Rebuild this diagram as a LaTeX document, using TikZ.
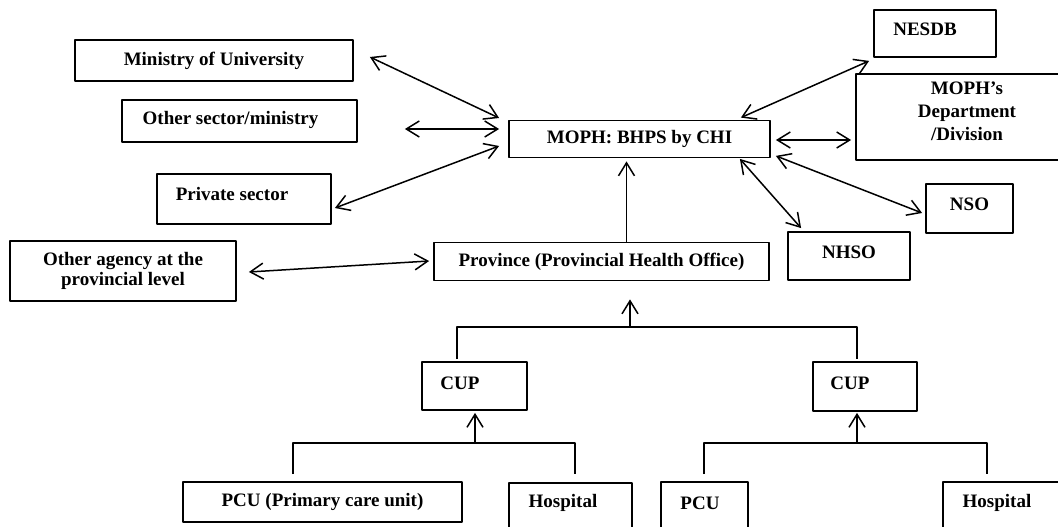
\documentclass[tikz,border=0pt]{standalone}
\usepackage{fontspec}
\setmainfont{Liberation Serif}
\usetikzlibrary{arrows.meta}

\begin{document}
\begin{tikzpicture}[x=1pt,y=-1pt,line join=round,
 >={Straight Barb[length=13pt,width=16pt]},
 box/.style={draw,line width=1.8pt,inner sep=0pt,font=\bfseries\fontsize{19}{20}\selectfont},
 boxtext/.style={font=\bfseries\fontsize{19}{23}\selectfont,inner sep=0pt},
 link/.style={<->,line width=1.5pt},
 flow/.style={->,line width=1.5pt},
 tree/.style={line width=1.8pt}]
\useasboundingbox (0,0) rectangle (1058,527);
\clip (0,0) rectangle (1058,527);
% partners on the left
\node[box,minimum width=278pt,minimum height=41pt] (minuni) at (214,60.5) {Ministry of University};
\node[box,minimum width=235pt,minimum height=42pt,label={[boxtext,shift={(-9,-1)}]center:Other sector/ministry}] (othsec) at (239.5,121) {};
\node[box,minimum width=174pt,minimum height=50pt,label={[boxtext,shift={(-12,-5)}]center:Private sector}] (priv) at (244,199) {};
\node[box,minimum width=226pt,minimum height=60pt,align=center] (agency) at (123,271) {Other agency at the\\provincial level};
% centre
\node[box,minimum width=261pt,minimum height=37pt] (moph) at (639.5,139) {MOPH: BHPS by CHI};
\node[box,minimum width=335pt,minimum height=38pt] (prov) at (601.5,261.5) {Province (Provincial Health Office)};
% partners on the right
\node[box,minimum width=122pt,minimum height=47pt,label={[boxtext,shift={(-10,-4.5)}]center:NESDB}] (nesdb) at (935,33.5) {};
\node[box,minimum width=222pt,minimum height=86pt,label={[boxtext,align=center,shift={(0,-6)}]center:MOPH’s\\Department\\/Division}] (dept) at (967,117) {};
\node[box,minimum width=87pt,minimum height=49pt,label={[boxtext,shift={(0,-4)}]center:NSO}] (nso) at (969.5,208.5) {};
\node[box,minimum width=122pt,minimum height=48pt,label={[boxtext,shift={(0,-4)}]center:NHSO}] (nhso) at (849,256) {};
% district level
\node[box,minimum width=105pt,minimum height=48pt,label={[boxtext,shift={(-14.5,-3)}]center:CUP}] (cupl) at (474.5,386) {};
\node[box,minimum width=104pt,minimum height=49pt,label={[boxtext,shift={(-15,-3)}]center:CUP}] (cupr) at (865,386.5) {};
\node[box,minimum width=279pt,minimum height=40pt] (pcul) at (322.5,502) {PCU (Primary care unit)};
\node[box,minimum width=123pt,minimum height=77pt,label={[boxtext,shift={(-7.5,-18.5)}]center:Hospital}] (hospl) at (570.5,521.5) {};
\node[box,minimum width=87pt,minimum height=78pt,label={[boxtext,shift={(-4.5,-18)}]center:PCU}] (pcur) at (704.5,521) {};
\node[box,minimum width=137pt,minimum height=78pt,label={[boxtext,shift={(-14.5,-18)}]center:Hospital}] (hospr) at (1011.5,521) {};
% two-way links
\draw[link] ([shift={(16,-3.5)}]minuni.east) -- ([shift={(-9,-21)}]moph.west);
\draw[link] ([shift={(47,8)}]othsec.east) -- ([shift={(-9,-10)}]moph.west);
\draw[link] ([shift={(3,9)}]priv.east) -- ([shift={(-9,7)}]moph.west);
\draw[link] ([shift={(12,1)}]agency.east) -- ([shift={(-4,-0.5)}]prov.west);
\draw[link] ([shift={(-30,-2)}]moph.north east) -- ([shift={(-4,3)}]nesdb.south west);
\draw[link] ([shift={(5,1)}]moph.east) -- ([shift={(-4,23)}]dept.west);
\draw[link] ([shift={(5,-2.5)}]moph.south east) -- ([shift={(-3,4.5)}]nso.west);
\draw[link] ([shift={(-31,0.5)}]moph.south east) -- ([shift={(14,-3)}]nhso.north west);
\draw[flow] ([shift={(25,0)}]prov.north) -- ([shift={(-13,3)}]moph.south);
% reporting tree
\coordinate (topbar) at (630,327);
\coordinate (lbar) at (475,443);
\coordinate (rbar) at (857,443);
\draw[tree] ([shift={(-17.5,-2)}]cupl.north) |- (topbar) -| ([shift={(-8,-2)}]cupr.north);
\draw[flow] (topbar) -- ([shift={(28.5,18)}]prov.south);
\draw[tree] ([shift={(-29.5,-7)}]pcul.north) |- (lbar) -| ([shift={(4.5,-8)}]hospl.north);
\draw[flow] (lbar) -- ([shift={(0.5,2)}]cupl.south);
\draw[tree] ([shift={(-0.5,-7)}]pcur.north) |- (rbar) -| ([shift={(-24.5,-7)}]hospr.north);
\draw[flow] (rbar) -- ([shift={(-8,1)}]cupr.south);
\end{tikzpicture}
\end{document}
